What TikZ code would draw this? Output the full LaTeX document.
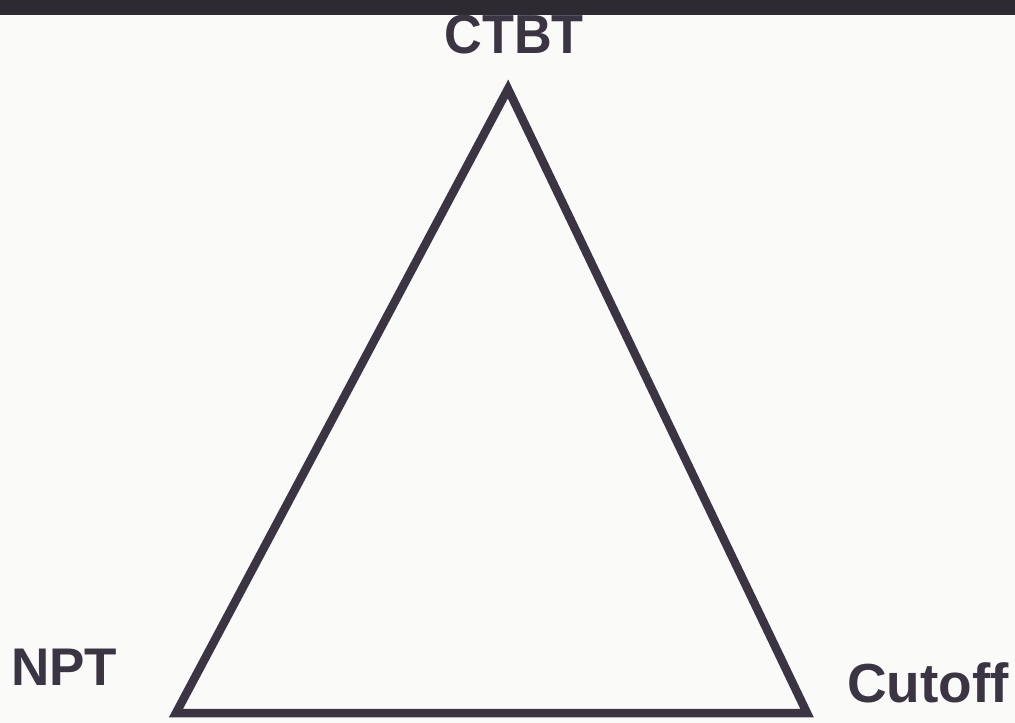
\documentclass[tikz,border=0pt]{standalone}
\usepackage{fontspec}
\setmainfont{Liberation Sans}
\definecolor{ink}{HTML}{3A3443}
\definecolor{band}{HTML}{2E2A31}
\definecolor{paper}{HTML}{FAFAF9}
\begin{document}
\begin{tikzpicture}[x=1pt,y=-1pt,
  lbl/.style={font=\bfseries\fontsize{55}{60}\selectfont, text=ink, inner sep=0pt, anchor=base},
  edge/.style={draw=ink, line width=8.5pt, line join=miter}]
\useasboundingbox (0,0) rectangle (1015,723);
\fill[paper] (0,0) rectangle (1015,723);
\fill[band] (0,0) rectangle (1015,15);
\coordinate (top) at (508,89);
\coordinate (bl) at (176,713);
\coordinate (br) at (807,713);
\draw[edge] (top) -- (bl) -- (br) -- cycle;
\node[lbl, xscale=0.95] (ctbt) at (514,53) {CTBT};
\node[lbl, font=\bfseries\fontsize{53}{58}\selectfont] (npt) at (64,685) {NPT};
\node[lbl] (cutoff) at (928,702) {Cutoff};
\end{tikzpicture}
\end{document}
